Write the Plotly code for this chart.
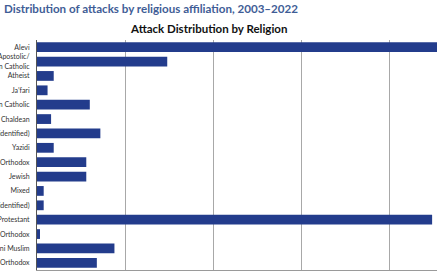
import plotly.graph_objects as go

categories = [
    "Alevi",
    "Armenian Apostolic/<br>Armenian Catholic",
    "Atheist",
    "Ja’fari",
    "Roman Catholic",
    "Chaldean",
    "Christian (unidentified)",
    "Yazidi",
    "Greek Orthodox",
    "Jewish",
    "Mixed",
    "Muslim (unidentified)",
    "Protestant",
    "Russian Orthodox",
    "Sunni Muslim",
    "Syriac Orthodox",
]
values = [45.9, 7.4, 0.95, 0.6, 3.0, 0.8, 3.6, 0.95, 2.8, 2.8, 0.38, 0.38, 22.45, 0.17, 4.4, 3.4]

main_title = "Distribution of attacks by religious affiliation, 2003–2022"
chart_title = "Attack Distribution by Religion"

BAR = "#233c8c"
W, H = 437, 275
ML, MR, MT, MB = 37, 0, 40, 5
PW, PH = W - ML - MR, H - MT - MB

def px_x(x):
    return (x - ML) / PW

def px_y(y):
    return (H - MB - y) / PH

fig = go.Figure(
    go.Bar(
        x=values,
        y=categories,
        orientation="h",
        marker=dict(color=BAR, line=dict(width=0)),
        width=0.68,
    )
)

fig.update_layout(
    width=W,
    height=H,
    margin=dict(l=ML, r=MR, t=MT, b=MB, pad=0),
    paper_bgcolor="white",
    plot_bgcolor="white",
    showlegend=False,
    font=dict(family="Lato", color="#333333"),
    annotations=[
        dict(
            text="<b>" + main_title + "</b>",
            xref="paper", yref="paper",
            x=px_x(2), y=px_y(9),
            xanchor="left", yanchor="middle",
            showarrow=False,
            font=dict(family="Lato", size=11.6, color="#3f5d96"),
        ),
        dict(
            text="<b>" + chart_title + "</b>",
            xref="paper", yref="paper",
            x=px_x(208), y=px_y(28),
            xanchor="center", yanchor="middle",
            showarrow=False,
            font=dict(family="Lato", size=11.5, color="#111111"),
        ),
    ],
)

fig.update_xaxes(
    range=[0, (W - ML - MR) / 88 * 5],
    dtick=5,
    showgrid=True,
    gridcolor="#a8a8a8",
    gridwidth=1,
    zeroline=False,
    showline=True,
    linecolor="#9a9a9a",
    linewidth=1,
    showticklabels=False,
    ticks="",
    automargin=False,
)

fig.update_yaxes(
    autorange="reversed",
    showgrid=False,
    showline=True,
    linecolor="#555555",
    linewidth=1,
    ticks="",
    ticklabelstandoff=5,
    tickfont=dict(family="Lato", size=7, color="#333333"),
    automargin=False,
)

fig.write_html("out.html")
